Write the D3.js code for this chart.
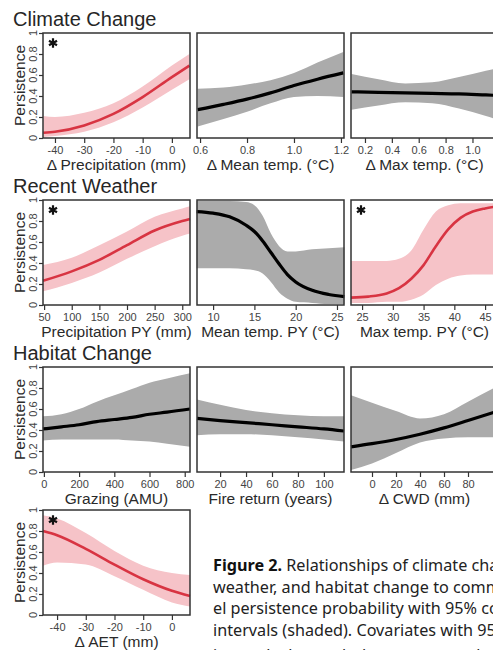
<!DOCTYPE html>
<html>
<head>
<meta charset="utf-8">
<script src="https://cdn.jsdelivr.net/npm/d3@7"></script>
<style>
  body { margin: 0; background: #fff; }
  svg { display: block; }
</style>
</head>
<body>
<svg id="fig" width="493" height="650"></svg>
<script>

// ---- Climate change row ----
var precipX   = [-44, -40, -30, -20, -10, 0, 6];
var precipFit = [0.05, 0.06, 0.12, 0.23, 0.39, 0.58, 0.69];
var precipLo  = [0.01, 0.02, 0.06, 0.15, 0.29, 0.46, 0.56];
var precipHi  = [0.21, 0.20, 0.24, 0.33, 0.49, 0.69, 0.80];
var precipTicks = [-40, -30, -20, -10, 0];
var precipTickLabels = ["-40", "-30", "-20", "-10", "0"];

var meanTX   = [0.59, 0.7, 0.8, 0.9, 1.0, 1.1, 1.21];
var meanTFit = [0.27, 0.32, 0.37, 0.43, 0.50, 0.56, 0.62];
var meanTLo  = [0.11, 0.18, 0.25, 0.33, 0.39, 0.40, 0.39];
var meanTHi  = [0.47, 0.48, 0.51, 0.55, 0.62, 0.72, 0.82];
var meanTTicks = [0.6, 0.8, 1.0, 1.2];
var meanTTickLabels = ["0.6", "0.8", "1.0", "1.2"];

var maxTX   = [0.1, 0.3, 0.5, 0.7, 0.9, 1.1, 1.2];
var maxTFit = [0.44, 0.435, 0.43, 0.425, 0.42, 0.41, 0.405];
var maxTLo  = [0.27, 0.31, 0.34, 0.33, 0.28, 0.21, 0.17];
var maxTHi  = [0.61, 0.56, 0.52, 0.53, 0.58, 0.64, 0.67];
var maxTTicks = [0.2, 0.4, 0.6, 0.8, 1.0];
var maxTTickLabels = ["0.2", "0.4", "0.6", "0.8", "1.0"];

// ---- Recent weather row ----
var precipPYX   = [48, 100, 150, 200, 250, 300, 314];
var precipPYFit = [0.23, 0.32, 0.43, 0.57, 0.71, 0.80, 0.82];
var precipPYLo  = [0.13, 0.21, 0.31, 0.44, 0.56, 0.66, 0.68];
var precipPYHi  = [0.38, 0.45, 0.57, 0.70, 0.84, 0.92, 0.94];
var precipPYTicks = [50, 100, 150, 200, 250, 300];
var precipPYTickLabels = ["50", "100", "150", "200", "250", "300"];

var meanPYX   = [8, 10, 12, 14, 15, 16, 17, 18, 19, 20, 22, 24, 25.9];
var meanPYFit = [0.89, 0.875, 0.84, 0.76, 0.70, 0.61, 0.50, 0.39, 0.29, 0.22, 0.14, 0.10, 0.08];
var meanPYLo  = [0.35, 0.35, 0.35, 0.34, 0.33, 0.30, 0.22, 0.12, 0.06, 0.03, 0.02, 0.01, 0.01];
var meanPYHi  = [0.99, 0.99, 0.99, 0.98, 0.95, 0.85, 0.68, 0.56, 0.51, 0.51, 0.53, 0.54, 0.55];
var meanPYTicks = [10, 15, 20, 25];
var meanPYTickLabels = ["10", "15", "20", "25"];

var maxPYX   = [23.2, 26, 29, 31, 33, 35, 37, 39, 41, 43, 45, 47.1];
var maxPYFit = [0.07, 0.08, 0.11, 0.16, 0.25, 0.38, 0.56, 0.72, 0.83, 0.89, 0.92, 0.94];
var maxPYLo  = [0.02, 0.02, 0.03, 0.03, 0.05, 0.10, 0.19, 0.25, 0.28, 0.29, 0.29, 0.29];
var maxPYHi  = [0.42, 0.42, 0.42, 0.44, 0.52, 0.72, 0.89, 0.95, 0.97, 0.97, 0.97, 0.97];
var maxPYTicks = [25, 30, 35, 40, 45];
var maxPYTickLabels = ["25", "30", "35", "40", "45"];

// ---- Habitat change row ----
var grazeX   = [-5, 100, 200, 300, 400, 500, 600, 700, 830];
var grazeFit = [0.41, 0.43, 0.45, 0.48, 0.50, 0.52, 0.55, 0.57, 0.60];
var grazeLo  = [0.30, 0.31, 0.31, 0.31, 0.31, 0.30, 0.29, 0.27, 0.24];
var grazeHi  = [0.53, 0.55, 0.60, 0.67, 0.73, 0.79, 0.85, 0.89, 0.94];
var grazeTicks = [0, 200, 400, 600, 800];
var grazeTickLabels = ["0", "200", "400", "600", "800"];

var fireX   = [2.2, 20, 40, 60, 80, 100, 115.5];
var fireFit = [0.51, 0.49, 0.47, 0.45, 0.43, 0.41, 0.39];
var fireLo  = [0.35, 0.36, 0.36, 0.35, 0.33, 0.31, 0.29];
var fireHi  = [0.69, 0.64, 0.59, 0.56, 0.54, 0.53, 0.53];
var fireTicks = [20, 40, 60, 80, 100];
var fireTickLabels = ["20", "40", "60", "80", "100"];

var cwdX   = [-17.5, 0, 20, 40, 60, 80, 105];
var cwdFit = [0.24, 0.27, 0.31, 0.36, 0.42, 0.49, 0.58];
var cwdLo  = [0.02, 0.08, 0.18, 0.28, 0.32, 0.33, 0.33];
var cwdHi  = [0.73, 0.66, 0.58, 0.51, 0.55, 0.67, 0.82];
var cwdTicks = [0, 20, 40, 60, 80];
var cwdTickLabels = ["0", "20", "40", "60", "80"];

// ---- AET ----
var aetX   = [-44.9, -40, -30, -20, -10, 0, 6.3];
var aetFit = [0.80, 0.76, 0.63, 0.48, 0.34, 0.23, 0.18];
var aetLo  = [0.47, 0.50, 0.48, 0.37, 0.24, 0.12, 0.08];
var aetHi  = [0.95, 0.92, 0.78, 0.61, 0.47, 0.40, 0.38];
var aetTicks = [-40, -30, -20, -10, 0];
var aetTickLabels = ["-40", "-30", "-20", "-10", "0"];

var yTicks = [0, 0.2, 0.4, 0.6, 0.8, 1];
var yTickLabels = ["0", "0.2", "0.4", "0.6", "0.8", "1"];

var rowTitles = ["Climate Change", "Recent Weather", "Habitat Change"];

// caption: [bold lead, rest of line]
var captionLines = [
  ["Figure 2.", " Relationships of climate change, recent"],
  ["", "weather, and habitat change to community-lev-"],
  ["", "el persistence probability with 95% confidence"],
  ["", "intervals (shaded). Covariates with 95% credible"],
  ["", "intervals that exclude zero are marked (*)."]
];


// layout
var colX = [43, 197, 351];
var rowY = [33, 200, 367, 510];
var pw = 147, ph = 105;

var panels = [
  {r: 0, c: 0, x: precipX, fit: precipFit, lo: precipLo, hi: precipHi, ticks: precipTicks, labels: precipTickLabels, dom: [-44.1, 6.2], title: "\u0394 Precipitation (mm)", red: true, star: true},
  {r: 0, c: 1, x: meanTX, fit: meanTFit, lo: meanTLo, hi: meanTHi, ticks: meanTTicks, labels: meanTTickLabels, dom: [0.587, 1.213], title: "\u0394 Mean temp. (\u00B0C)", red: false, star: false},
  {r: 0, c: 2, x: maxTX, fit: maxTFit, lo: maxTLo, hi: maxTHi, ticks: maxTTicks, labels: maxTTickLabels, dom: [0.096, 1.19], title: "\u0394 Max temp. (\u00B0C)", red: false, star: false},
  {r: 1, c: 0, x: precipPYX, fit: precipPYFit, lo: precipPYLo, hi: precipPYHi, ticks: precipPYTicks, labels: precipPYTickLabels, dom: [48, 314], title: "Precipitation PY (mm)", red: true, star: true},
  {r: 1, c: 1, x: meanPYX, fit: meanPYFit, lo: meanPYLo, hi: meanPYHi, ticks: meanPYTicks, labels: meanPYTickLabels, dom: [8.05, 25.85], title: "Mean temp. PY (\u00B0C)", red: false, star: false},
  {r: 1, c: 2, x: maxPYX, fit: maxPYFit, lo: maxPYLo, hi: maxPYHi, ticks: maxPYTicks, labels: maxPYTickLabels, dom: [23.2, 47.1], title: "Max temp. PY (\u00B0C)", red: true, star: true},
  {r: 2, c: 0, x: grazeX, fit: grazeFit, lo: grazeLo, hi: grazeHi, ticks: grazeTicks, labels: grazeTickLabels, dom: [-5, 830], title: "Grazing (AMU)", red: false, star: false},
  {r: 2, c: 1, x: fireX, fit: fireFit, lo: fireLo, hi: fireHi, ticks: fireTicks, labels: fireTickLabels, dom: [2.2, 115.5], title: "Fire return (years)", red: false, star: false},
  {r: 2, c: 2, x: cwdX, fit: cwdFit, lo: cwdLo, hi: cwdHi, ticks: cwdTicks, labels: cwdTickLabels, dom: [-17.5, 105], title: "\u0394 CWD (mm)", red: false, star: false},
  {r: 3, c: 0, x: aetX, fit: aetFit, lo: aetLo, hi: aetHi, ticks: aetTicks, labels: aetTickLabels, dom: [-44.9, 6.3], title: "\u0394 AET (mm)", red: true, star: true}
];

var svg = d3.select("#fig");
var axisFont = "'Liberation Sans', Arial, sans-serif";

// row headings
svg.selectAll("text.rowtitle").data(rowTitles).enter().append("text")
  .attr("class", "rowtitle")
  .attr("x", 13)
  .attr("y", function(d, i) { return rowY[i] - 7; })
  .style("font-family", axisFont)
  .style("font-size", "20px")
  .style("fill", "#262626")
  .text(function(d) { return d; });


function drawPanel(p) {
  var left = colX[p.c], top = rowY[p.r];
  var g = svg.append("g").attr("transform", "translate(" + left + "," + top + ")");

  var x = d3.scaleLinear().domain(p.dom).range([0, pw]);
  var y = d3.scaleLinear().domain([0, 1]).range([ph, 0]);

  var pts = p.x.map(function(v, i) { return {x: v, fit: p.fit[i], lo: p.lo[i], hi: p.hi[i]}; });

  var band = d3.area()
    .x(function(d) { return x(d.x); })
    .y0(function(d) { return y(d.lo); })
    .y1(function(d) { return y(d.hi); })
    .curve(d3.curveMonotoneX);

  var line = d3.line()
    .x(function(d) { return x(d.x); })
    .y(function(d) { return y(d.fit); })
    .curve(d3.curveMonotoneX);

  g.append("path").datum(pts)
    .attr("d", band)
    .attr("fill", p.red ? "#f6c3c8" : "#ababab");

  g.append("path").datum(pts)
    .attr("d", line)
    .attr("fill", "none")
    .attr("stroke", p.red ? "#d83442" : "#000")
    .attr("stroke-width", p.red ? 2.6 : 3.2);

  // x axis
  var xAxis = d3.axisBottom(x)
    .tickValues(p.ticks)
    .tickSize(5)
    .tickPadding(3)
    .tickFormat(function(d, i) { return p.labels[i]; });

  var ax = g.append("g").attr("transform", "translate(0," + ph + ")").call(xAxis);
  ax.select(".domain").remove();
  ax.selectAll("line").attr("stroke", "#333").attr("stroke-width", 1.2);
  ax.selectAll("text")
    .style("font-family", axisFont)
    .style("font-size", "11px")
    .style("fill", "#444");

  g.append("text")
    .attr("x", pw / 2)
    .attr("y", ph + 32)
    .attr("text-anchor", "middle")
    .style("font-family", axisFont)
    .style("font-size", "15.5px")
    .style("fill", "#2a2a2a")
    .text(p.title);

  // y axis only in first column
  if (p.c == 0) {
    var yAxis = d3.axisLeft(y).tickValues(yTicks).tickSize(4).tickFormat("");
    var ay = g.append("g").call(yAxis);
    ay.select(".domain").remove();
    ay.selectAll("line").attr("stroke", "#333").attr("stroke-width", 1.2);

    g.selectAll("text.ylab").data(yTicks).enter().append("text")
      .attr("class", "ylab")
      .attr("transform", function(d) { return "translate(-6.5," + y(d) + ") rotate(-90)"; })
      .attr("text-anchor", "middle")
      .style("font-family", axisFont)
      .style("font-size", "11px")
      .style("fill", "#444")
      .text(function(d, i) { return yTickLabels[i]; });

    g.append("text")
      .attr("transform", "translate(-18," + (ph / 2) + ") rotate(-90)")
      .attr("text-anchor", "middle")
      .style("font-family", axisFont)
      .style("font-size", "15.5px")
      .style("fill", "#2a2a2a")
      .text("Persistence");
  }

  if (p.star) {
    g.append("path")
      .attr("transform", "translate(10,10)")
      .attr("d", d3.symbol(d3.symbolAsterisk, 60)())
      .attr("fill", "none")
      .attr("stroke", "#111")
      .attr("stroke-width", 2.2);
  }

  // frame
  g.append("rect")
    .attr("width", pw)
    .attr("height", ph)
    .attr("fill", "none")
    .attr("stroke", "#333")
    .attr("stroke-width", 1.5);
}

for (var i = 0; i < panels.length; i++) {
  drawPanel(panels[i]);
}

// caption, one text element per line
for (var k = 0; k < captionLines.length; k++) {
  var t = svg.append("text")
    .attr("x", 213)
    .attr("y", 571 + k * 21.7 + (k == 4 ? 3 : 0))
    .style("font-family", "'Noto Sans', 'Open Sans', sans-serif")
    .style("font-size", "16.2px")
    .style("fill", "#222");
  if (captionLines[k][0]) {
    t.append("tspan").style("font-weight", "bold").style("fill", "#111").text(captionLines[k][0]);
  }
  t.append("tspan").text(captionLines[k][1]);
}

</script>
</body>
</html>
